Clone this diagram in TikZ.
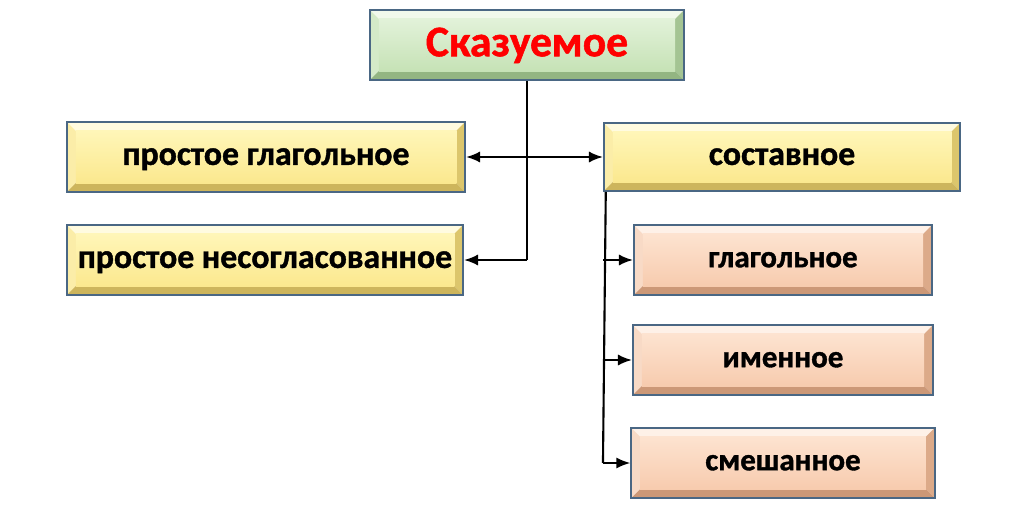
\documentclass[tikz,border=0pt]{standalone}
\usepackage{fontspec}
\setmainfont{Carlito}[BoldFeatures={FakeBold=1.2}]
\usepackage{tikz}
\usetikzlibrary{arrows.meta}
\definecolor{frameblue}{HTML}{4A6784}
\definecolor{grnhi}{HTML}{E2F2D9}
\definecolor{grnlo}{HTML}{C6E2B6}
\definecolor{grntop}{HTML}{F1F9EC}
\definecolor{grnleft}{HTML}{D4EAC8}
\definecolor{grnright}{HTML}{A4C493}
\definecolor{grnbot}{HTML}{93B582}
\definecolor{ylwhi}{HTML}{FFF6B8}
\definecolor{ylwlo}{HTML}{FBE88E}
\definecolor{ylwtop}{HTML}{FFFBE0}
\definecolor{ylwleft}{HTML}{FBEDA8}
\definecolor{ylwright}{HTML}{DCC66C}
\definecolor{ylwbot}{HTML}{CDB55C}
\definecolor{pchhi}{HTML}{FDE3D0}
\definecolor{pchlo}{HTML}{F7CBAE}
\definecolor{pchtop}{HTML}{FEF1E8}
\definecolor{pchleft}{HTML}{F8DAC6}
\definecolor{pchright}{HTML}{DCAA89}
\definecolor{pchbot}{HTML}{CC9877}
\tikzset{
  bevel/.style={draw=frameblue, line width=1.4pt, inner sep=0pt, minimum height=1.75cm,
    text depth=0pt,
    path picture={
      \path (path picture bounding box.north west) coordinate (tl)
            (path picture bounding box.north east) coordinate (tr)
            (path picture bounding box.south west) coordinate (bl)
            (path picture bounding box.south east) coordinate (br);
      \path ([shift={(.22cm,-.22cm)}]tl) coordinate (itl)
            ([shift={(-.22cm,-.22cm)}]tr) coordinate (itr)
            ([shift={(.22cm,.22cm)}]bl) coordinate (ibl)
            ([shift={(-.22cm,.22cm)}]br) coordinate (ibr);
      \fill[#1top] (tl) -- (tr) -- (itr) -- (itl) -- cycle;
      \fill[#1left] (tl) -- (itl) -- (ibl) -- (bl) -- cycle;
      \fill[#1right] (tr) -- (br) -- (ibr) -- (itr) -- cycle;
      \fill[#1bot] (bl) -- (ibl) -- (ibr) -- (br) -- cycle;
      \shade[top color=#1hi, bottom color=#1lo] (ibl) rectangle (itr);
    }},
  bigtxt/.style={font=\bfseries\fontsize{31}{36}\selectfont, text height=16pt},
  midtxt/.style={font=\bfseries\fontsize{24}{28}\selectfont, text height=11.2pt},
  smltxt/.style={font=\bfseries\fontsize{22}{26}\selectfont, text height=10.3pt},
  link/.style={line width=1.5pt},
  arr/.style={line width=1.5pt, -{Latex[length=10pt,width=8pt]}}
}
\begin{document}
\begin{tikzpicture}[x=0.025cm, y=-0.025cm]
  \useasboundingbox (0,0) rectangle (1015,506);
  \node[bevel=grn, bigtxt, minimum width=7.85cm, text=red] (skaz) at (527,45) {Сказуемое};
  \node[bevel=ylw, midtxt, minimum width=9.95cm] (pglag) at (266,157) {простое глагольное};
  \node[bevel=ylw, midtxt, minimum width=9.9cm] (pnesogl) at (265,260) {простое несогласованное};
  \node[bevel=ylw, midtxt, minimum width=8.9cm, minimum height=1.7cm] (sost) at (782,157) {составное};
  \node[bevel=pch, smltxt, minimum width=7.45cm] (glag) at (783,260) {глагольное};
  \node[bevel=pch, smltxt, minimum width=7.5cm] (imen) at (783,360) {именное};
  \node[bevel=pch, smltxt, minimum width=7.58cm] (smesh) at (783,463) {смешанное};
  \draw[link] (skaz.south) -- (skaz.south |- pnesogl.east);
  \draw[arr] (skaz.south |- pnesogl.east) -- (pnesogl.east);
  \draw[arr] (skaz.south |- pglag.east) -- (pglag.east);
  \draw[arr] (skaz.south |- sost.west) -- (sost.west);
  \coordinate (bus) at ([xshift=2pt]sost.south west);
  \draw[link] (bus) -- ([xshift=-2pt]bus |- smesh.west);
  \foreach \n in {glag,imen,smesh}
    \draw[arr] ([xshift=-2pt]bus |- \n.west) -- (\n.west);
\end{tikzpicture}
\end{document}
